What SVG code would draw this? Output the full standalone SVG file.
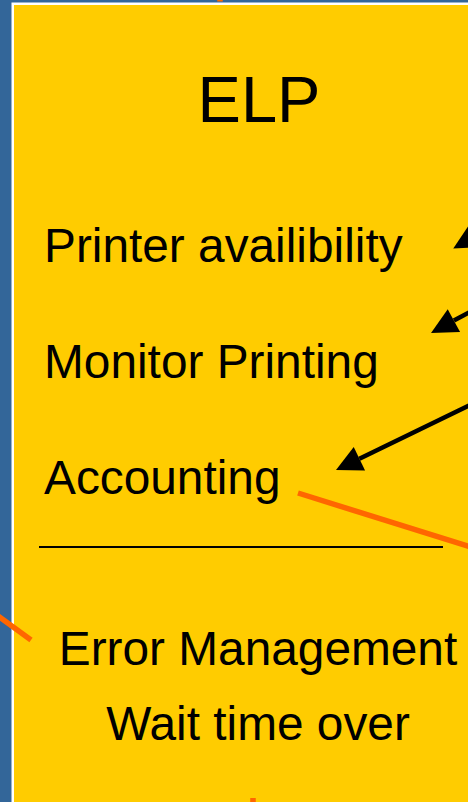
<svg xmlns="http://www.w3.org/2000/svg" width="468" height="802" viewBox="0 0 468 802">
<style>
.t{font-family:"Liberation Sans",Arial,sans-serif;font-size:47.8px;fill:#000}
.c{text-anchor:middle}
.arr{stroke:#000;stroke-width:4.5;fill:none;marker-end:url(#ah)}
.or{stroke:#FF6600;stroke-width:5.5;fill:none}
</style>
<defs>
<marker id="ah" markerUnits="userSpaceOnUse" viewBox="0 0 26 26" refX="0" refY="13" markerWidth="26" markerHeight="26" orient="auto" overflow="visible">
<path d="M0,0 L26,13 L0,26 Z" fill="#000"/>
</marker>
</defs>
<rect x="0" y="0" width="468" height="802" fill="#336699"/>
<rect x="11.5" y="2.5" width="470" height="810" fill="#FFFFFF"/>
<rect x="14" y="5" width="470" height="810" fill="#FFCC00"/>
<g id="title"><text class="t c" x="259" y="122" style="font-size:65px">ELP</text></g>
<g id="printer"><text class="t" x="44" y="262">Printer availibility</text></g>
<g id="monitor"><text class="t" x="44" y="378">Monitor Printing</text></g>
<g id="accounting"><text class="t" x="44" y="494">Accounting</text></g>
<g id="divider"><line x1="39" y1="547" x2="443" y2="547" stroke="#000" stroke-width="2"/></g>
<g id="error"><text class="t c" x="258" y="665">Error Management</text></g>
<g id="wait"><text class="t c" x="258" y="740">Wait time over</text></g>
<g id="connectors">
<line class="arr" x1="500" y1="222" x2="475.9" y2="235.6"/>
<line class="arr" x1="470" y1="311.9" x2="453.9" y2="320.6"/>
<line class="arr" x1="470" y1="405.1" x2="359.4" y2="458.7"/>
<line class="or" x1="298" y1="493" x2="480" y2="550"/>
<line class="or" x1="-2" y1="616" x2="31" y2="640"/>
<line class="or" x1="253" y1="798" x2="253" y2="806" stroke-width="4"/>
<line class="or" x1="220" y1="-2" x2="220" y2="1.5" stroke-width="2"/>
</g>
</svg>
